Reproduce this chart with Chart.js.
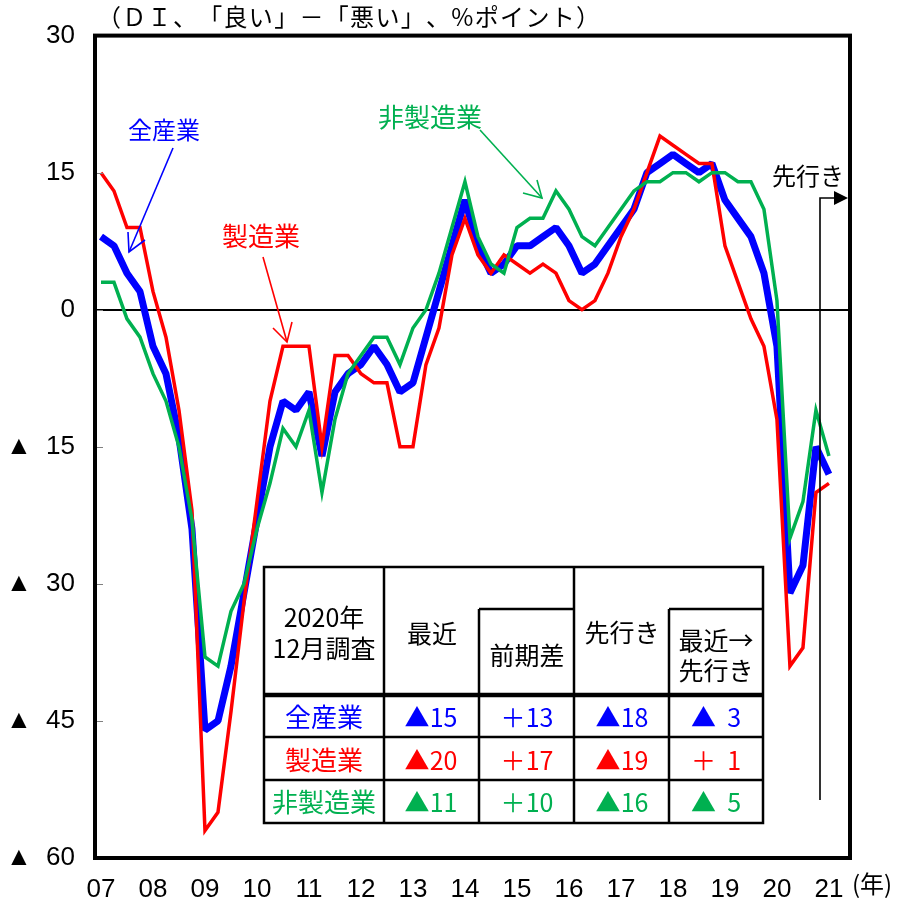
<!DOCTYPE html>
<html>
<head>
<meta charset="utf-8">
<script src="https://cdn.jsdelivr.net/npm/chart.js@4.4.0/dist/chart.umd.min.js"></script>
<style>
  html, body { margin: 0; padding: 0; background: #fff; }
  #wrap { width: 899px; height: 902px; }
</style>
</head>
<body>
<div id="wrap"><canvas id="c" width="899" height="902"></canvas></div>
<script>
// 業況判断DI（「良い」－「悪い」、%ポイント）: 3・6・9・12月調査、最後の点は先行き
const yearLabels = ['07','08','09','10','11','12','13','14','15','16','17','18','19','20','21'];
const surveyMonths = ['3月','6月','9月','12月'];
const quarters = [];
yearLabels.forEach(y => surveyMonths.forEach(m => quarters.push(y + '/' + m)));
quarters.length = 57; // 2007/3月 … 2020/12月 + 2021/3月（先行き）

const allIndustries = [8,7,4,2,-4,-7,-14,-24,-46,-45,-39,-31,-23,-15,-10,-11,-9,-16,-9,-7,-6,-4,-6,-9,-8,-3,2,7,12,7,4,5,7,7,8,9,7,4,5,7,9,11,15,16,17,16,15,16,12,10,8,4,-4,-31,-28,-15,-18];
const manufacturing = [15,13,9,9,2,-3,-11,-22,-57,-55,-44,-32,-21,-10,-4,-4,-4,-15,-5,-5,-7,-8,-8,-15,-15,-6,-2,6,10,6,4,6,5,4,5,4,1,0,1,4,8,11,15,19,18,17,16,16,7,3,-1,-4,-12,-39,-37,-20,-19];
const nonManufacturing = [3,3,-1,-3,-7,-10,-15,-23,-38,-39,-33,-30,-24,-19,-13,-15,-11,-20,-12,-7,-5,-3,-3,-6,-2,0,4,9,14,8,5,4,9,10,10,13,11,8,7,9,11,13,14,14,15,15,14,15,15,14,14,11,1,-25,-21,-11,-16];

const seriesNames = ['全産業', '製造業', '非製造業'];
const seriesColors = ['#0000FF', '#FF0000', '#00B050'];
const seriesData = [allIndustries, manufacturing, nonManufacturing];

const titleText = '（ＤＩ、「良い」－「悪い」、%ポイント）';
const surveyLabel = ['2020年', '12月調査'];

const NUM_FONT = '"Liberation Sans Narrow", "Arial Narrow", "Liberation Sans", sans-serif';
const JP_FONT = '"Noto Sans CJK JP", "Noto Sans", sans-serif';

const toPoints = arr => arr.map((v, i) => ({ x: i, y: v }));

// ▲ for minus, ＋ for plus (DI notation)
function fmtDI(v, pad) {
  const n = String(Math.abs(v));
  const body = pad && n.length < 2 ? '  ' + n : n;
  if (v < 0) return '▲' + body;
  if (v > 0) return '＋' + body;
  return body;
}

function drawSpaced(ctx, text, x0, x1, y) {
  const chars = Array.from(text);
  const widths = chars.map(c => ctx.measureText(c).width);
  const total = widths.reduce((a, b) => a + b, 0);
  const gap = (x1 - x0 - total) / (chars.length - 1);
  let x = x0;
  ctx.textAlign = 'left';
  chars.forEach((c, i) => { ctx.fillText(c, x, y); x += widths[i] + gap; });
}

function line(ctx, pts) {
  ctx.beginPath();
  ctx.moveTo(pts[0][0], pts[0][1]);
  for (let i = 1; i < pts.length; i++) ctx.lineTo(pts[i][0], pts[i][1]);
  ctx.stroke();
}

const decorations = {
  id: 'decorations',
  afterDatasetsDraw(chart) {
    const ctx = chart.ctx;
    const a = chart.chartArea;
    const ys = chart.scales.y;
    ctx.save();

    // small inside ticks on the value axis
    ctx.strokeStyle = '#808080';
    ctx.lineWidth = 1;
    ys.ticks.forEach(t => {
      const y = Math.round(ys.getPixelForValue(t.value)) + 0.5;
      line(ctx, [[a.left, y], [a.left + 8, y]]);
    });

    // plot frame
    ctx.strokeStyle = '#000';
    ctx.lineWidth = 4;
    ctx.strokeRect(a.left, a.top, a.right - a.left, a.bottom - a.top);

    // title
    ctx.fillStyle = '#000';
    ctx.font = '24px ' + JP_FONT;
    ctx.textBaseline = 'middle';
    drawSpaced(ctx, titleText, 97, 600, 17);

    // unit on the time axis
    ctx.font = '24px ' + JP_FONT;
    ctx.textAlign = 'left';
    ctx.fillText('(年)', 852, 884);

    // series callouts
    ctx.lineWidth = 1.6;
    ctx.textAlign = 'center';
    ctx.font = '24px ' + JP_FONT;
    ctx.fillStyle = seriesColors[0]; ctx.strokeStyle = seriesColors[0];
    ctx.fillText(seriesNames[0], 164, 130);
    line(ctx, [[173, 148], [129, 252]]);
    line(ctx, [[128, 232], [129, 252], [145, 240]]);

    ctx.font = '26px ' + JP_FONT;
    ctx.fillStyle = seriesColors[1]; ctx.strokeStyle = seriesColors[1];
    ctx.fillText(seriesNames[1], 261, 236);
    line(ctx, [[263, 257], [287, 342]]);
    line(ctx, [[273, 328], [287, 342], [292, 322]]);

    ctx.fillStyle = seriesColors[2]; ctx.strokeStyle = seriesColors[2];
    ctx.fillText(seriesNames[2], 430, 117);
    line(ctx, [[480, 130], [542, 198]]);
    line(ctx, [[523, 193], [542, 198], [537, 180]]);

    // forecast marker
    ctx.font = '24px ' + JP_FONT;
    ctx.fillStyle = '#000'; ctx.strokeStyle = '#000';
    ctx.lineWidth = 1.6;
    ctx.fillText('先行き', 808, 176);
    line(ctx, [[820, 800], [820, 198], [836, 198]]);
    ctx.beginPath();
    ctx.moveTo(834, 191); ctx.lineTo(848, 198); ctx.lineTo(834, 205); ctx.closePath();
    ctx.fill();

    // summary table
    const cx = [264, 384, 479, 574, 669, 763];
    const top = 567, head = 695, bottom = 823, sub = 609;
    const rowLines = [737, 780];
    ctx.fillStyle = '#fff';
    ctx.fillRect(cx[0], top, cx[5] - cx[0], bottom - top);
    ctx.strokeStyle = '#000';
    ctx.lineWidth = 2.5;
    ctx.strokeRect(cx[0], top, cx[5] - cx[0], bottom - top);
    line(ctx, [[cx[1], top], [cx[1], bottom]]);
    line(ctx, [[cx[3], top], [cx[3], bottom]]);
    line(ctx, [[cx[2], sub], [cx[2], bottom]]);
    line(ctx, [[cx[4], sub], [cx[4], bottom]]);
    line(ctx, [[cx[2], sub], [cx[3], sub]]);
    line(ctx, [[cx[4], sub], [cx[5], sub]]);
    rowLines.forEach(y => line(ctx, [[cx[0], y], [cx[5], y]]));
    ctx.lineWidth = 4.5;
    line(ctx, [[cx[0], head], [cx[5], head]]);

    ctx.fillStyle = '#000';
    ctx.font = '25px ' + JP_FONT;
    ctx.textAlign = 'center';
    ctx.fillText(surveyLabel[0], 324, 617);
    ctx.fillText(surveyLabel[1], 324, 648);
    ctx.fillText('最近', 432, 633);
    ctx.fillText('前期差', 527, 655);
    ctx.fillText('先行き', 622, 632);
    ctx.fillText('最近→', 716, 640);
    ctx.fillText('先行き', 716, 670);

    const rowY = [717, 760, 802];
    const colX = [324, 431, 527, 622, 716];
    const last = quarters.length - 2; // latest survey (2020/12月)
    seriesData.forEach((arr, r) => {
      const recent = arr[last];
      const diff = arr[last] - arr[last - 1];
      const ahead = arr[last + 1];
      const change = ahead - recent;
      const cells = [seriesNames[r], fmtDI(recent), fmtDI(diff), fmtDI(ahead), fmtDI(change, true)];
      ctx.fillStyle = seriesColors[r];
      cells.forEach((txt, c) => {
        ctx.font = (c === 0 ? '26px ' : '25px ') + JP_FONT;
        ctx.fillText(txt, colX[c], rowY[r]);
      });
    });

    ctx.restore();
  }
};

new Chart(document.getElementById('c'), {
  type: 'line',
  data: {
    labels: quarters,
    datasets: seriesData.map((arr, k) => ({
      label: seriesNames[k],
      data: toPoints(arr),
      borderColor: seriesColors[k],
      backgroundColor: seriesColors[k],
      borderWidth: k === 0 ? 7 : 3.5,
      borderJoinStyle: k === 0 ? 'bevel' : 'miter',
      pointRadius: 0,
      tension: 0,
      fill: false,
      order: 3 - k
    }))
  },
  options: {
    responsive: false,
    animation: false,
    events: [],
    layout: { padding: { top: 33, right: 49, left: 0, bottom: 0 } },
    plugins: { legend: { display: false }, title: { display: false }, tooltip: { enabled: false } },
    scales: {
      x: {
        type: 'linear',
        min: -0.46,
        max: 57.62,
        grid: { display: false },
        border: { display: false },
        afterBuildTicks: s => { s.ticks = yearLabels.map((_, k) => ({ value: k * 4 })); },
        afterFit: s => { s.height = 44; },
        ticks: {
          autoSkip: false,
          maxRotation: 0,
          padding: 8,
          color: '#000',
          font: { family: NUM_FONT, size: 26 },
          callback: v => yearLabels[v / 4]
        }
      },
      y: {
        min: -60,
        max: 30,
        afterFit: s => { s.width = 95; },
        border: { display: false },
        grid: {
          drawTicks: false,
          lineWidth: 2,
          color: c => (c.tick && c.tick.value === 0 ? '#000' : 'rgba(0,0,0,0)')
        },
        ticks: {
          stepSize: 15,
          padding: 20,
          color: '#000',
          font: { family: NUM_FONT, size: 26 },
          callback: v => (v < 0 ? '▲  ' + (-v) : String(v))
        }
      }
    }
  },
  plugins: [decorations]
});
</script>
</body>
</html>
